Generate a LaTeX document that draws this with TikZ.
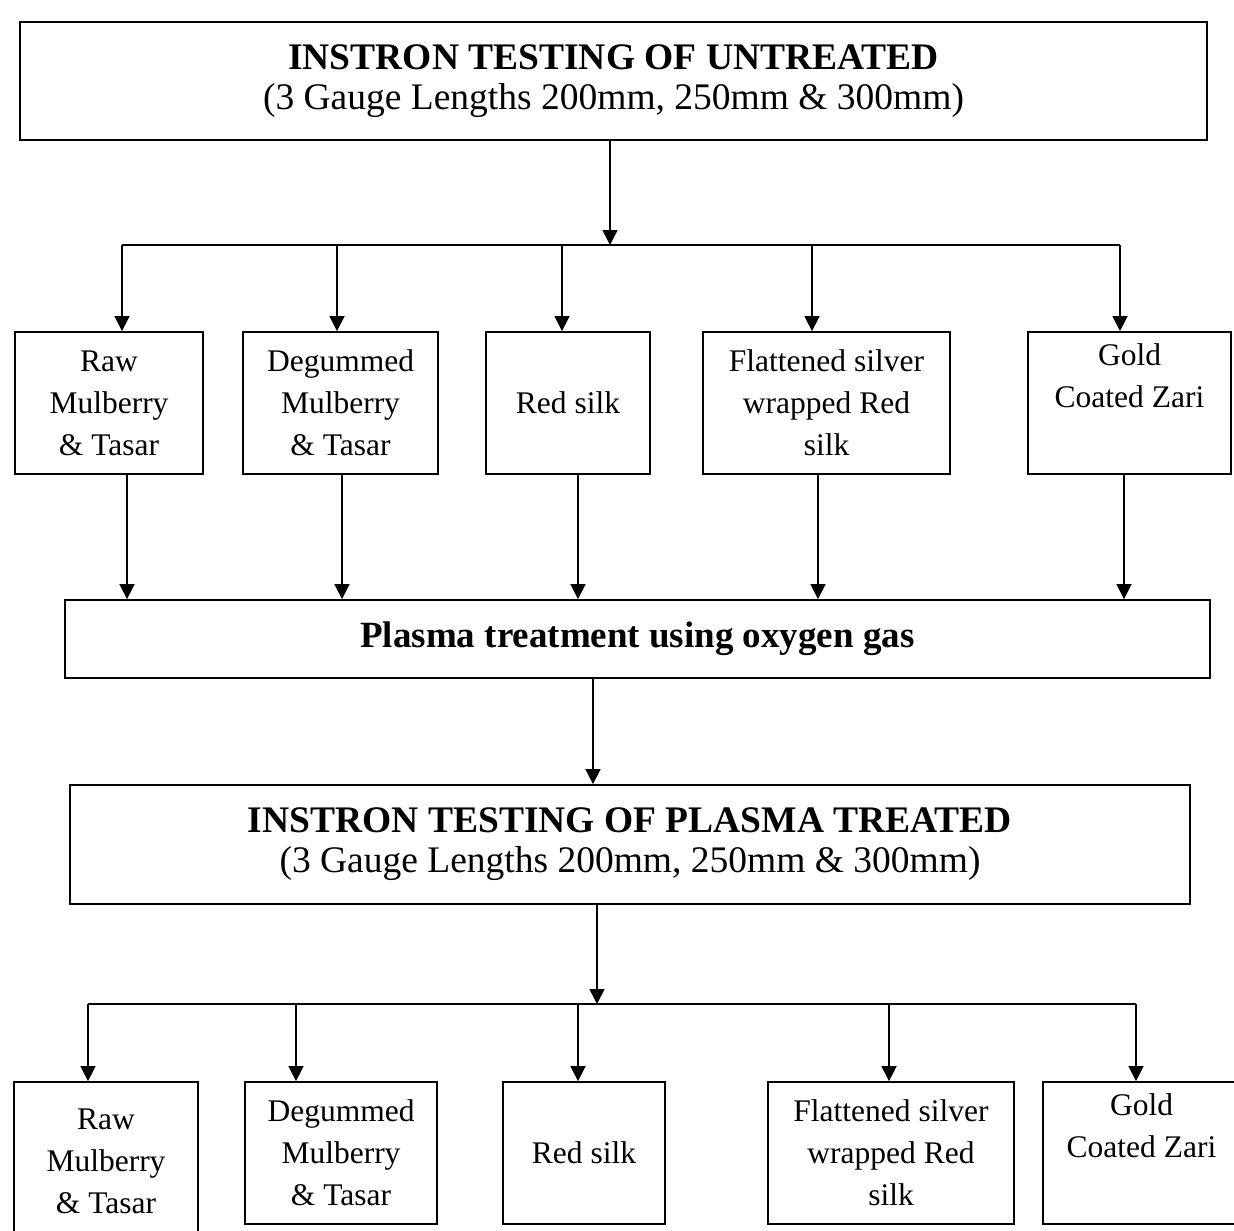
\documentclass[tikz,border=0pt]{standalone}
\usepackage{fontspec}
\setmainfont{Liberation Serif}
\usetikzlibrary{arrows.meta}
\begin{document}
\begin{tikzpicture}[x=1pt,y=-1pt,
  box/.style={draw, line width=1.8pt, rectangle, inner sep=0pt, align=center},
  head/.style={box, font=\fontsize{37.5}{40}\selectfont},
  lbl/.style={box, font=\fontsize{31.5}{42}\selectfont, minimum height=142pt},
  arr/.style={line width=1.6pt, -{Triangle[length=15pt,width=15pt]}},
  ln/.style={line width=1.8pt}]
\useasboundingbox (0,0) rectangle (1234,1231);
\clip (0,0) rectangle (1234,1231);

% top box
\node[head, minimum width=1187pt, minimum height=118pt] (top) at (613.5,81)
  {\textbf{INSTRON TESTING OF UNTREATED}\\(3 Gauge Lengths 200mm, 250mm \& 300mm)};
\coordinate (j1) at (610,245);

% first row
\node[lbl, minimum width=188pt] (b1) at (109,403) {Raw\\Mulberry\\\& Tasar};
\node[lbl, minimum width=195pt] (b2) at (340.5,403) {Degummed\\Mulberry\\\& Tasar};
\node[lbl, minimum width=164pt] (b3) at (568,403) {Red silk};
\node[lbl, minimum width=247pt] (b4) at (826.5,403) {Flattened silver\\wrapped Red\\silk};
\node[lbl, minimum width=203pt] (b5) at (1129.5,403) {Gold\\Coated Zari\\\strut};

% plasma
\node[box, minimum width=1145pt, minimum height=78pt, font=\fontsize{37}{40}\selectfont\bfseries] (pl) at (637.5,639)
  {Plasma treatment using oxygen gas};

% second box
\node[head, minimum width=1120pt, minimum height=119pt] (sec) at (630,844.5)
  {\textbf{INSTRON TESTING OF PLASMA TREATED}\\(3 Gauge Lengths 200mm, 250mm \& 300mm)};
\coordinate (j2) at (597,1004);

% second row
\node[lbl, minimum width=184pt, minimum height=158pt] (c1) at (106,1161) {Raw\\Mulberry\\\& Tasar};
\node[lbl, minimum width=192pt] (c2) at (341,1153) {Degummed\\Mulberry\\\& Tasar};
\node[lbl, minimum width=162pt] (c3) at (584,1153) {Red silk};
\node[lbl, minimum width=246pt] (c4) at (891,1153) {Flattened silver\\wrapped Red\\silk};
\node[lbl, minimum width=197pt] (c5) at (1141.5,1153) {Gold\\Coated Zari\\\strut};

% connectors: top to branch
\draw[arr] (top.south -| j1) -- (j1);
\draw[ln] (122,0 |- j1) -- (1120,0 |- j1);
\draw[arr] (122,0 |- j1) -- (122,0 |- b1.north);
\draw[arr] (337,0 |- j1) -- (337,0 |- b2.north);
\draw[arr] (562,0 |- j1) -- (562,0 |- b3.north);
\draw[arr] (812,0 |- j1) -- (812,0 |- b4.north);
\draw[arr] (1120,0 |- j1) -- (1120,0 |- b5.north);

% row 1 to plasma
\draw[arr] (127,0 |- b1.south) -- (127,0 |- pl.north);
\draw[arr] (342,0 |- b2.south) -- (342,0 |- pl.north);
\draw[arr] (578,0 |- b3.south) -- (578,0 |- pl.north);
\draw[arr] (818,0 |- b4.south) -- (818,0 |- pl.north);
\draw[arr] (1124,0 |- b5.south) -- (1124,0 |- pl.north);

% plasma to second box
\draw[arr] (593,0 |- pl.south) -- (593,0 |- sec.north);

% second box to branch
\draw[arr] (sec.south -| j2) -- (j2);
\draw[ln] (88,0 |- j2) -- (1136,0 |- j2);
\draw[arr] (88,0 |- j2) -- (88,0 |- c1.north);
\draw[arr] (296,0 |- j2) -- (296,0 |- c2.north);
\draw[arr] (578,0 |- j2) -- (578,0 |- c3.north);
\draw[arr] (889,0 |- j2) -- (889,0 |- c4.north);
\draw[arr] (1136,0 |- j2) -- (1136,0 |- c5.north);
\end{tikzpicture}
\end{document}
